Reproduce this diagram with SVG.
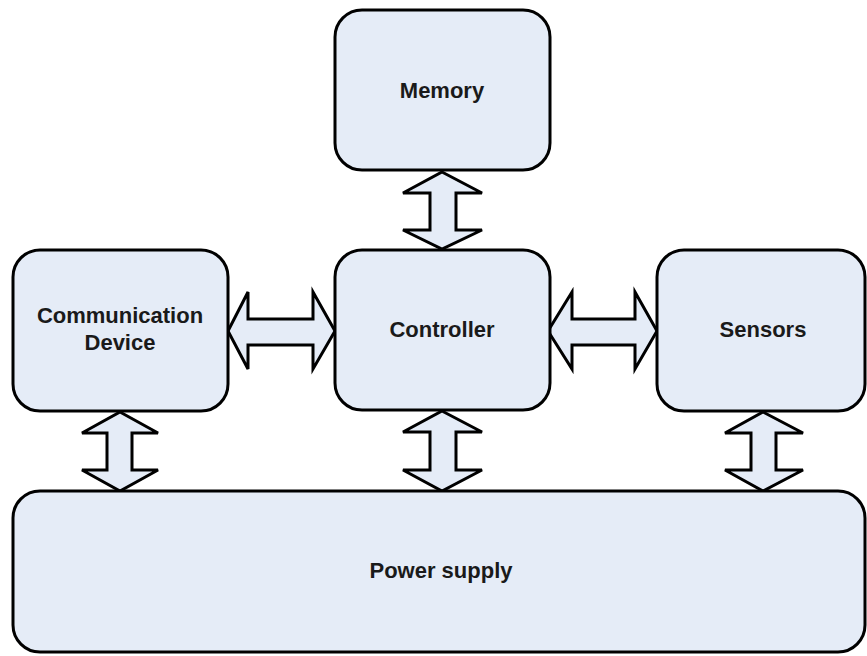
<svg xmlns="http://www.w3.org/2000/svg" width="867" height="656" viewBox="0 0 867 656">
  <style>
    .box { fill: #E5ECF7; stroke: #000; stroke-width: 3; }
    .arrow { fill: #E5ECF7; stroke: #000; stroke-width: 3; stroke-linejoin: miter; }
    .label { font-family: "Liberation Sans", Arial, sans-serif; font-size: 22px; font-weight: bold; fill: #1a1a1a; text-anchor: middle; }
  </style>
  <rect width="867" height="656" fill="#fff"/>

  <!-- block-arrow connectors -->
  <g id="connectors">
    <!-- Memory <-> Controller -->
    <polygon class="arrow" points="442,172 482,193 456,193 456,230 482,230 442,249 403,230 430,230 430,193 403,193"/>
    <!-- Communication Device <-> Controller -->
    <polygon class="arrow" points="228,331 248,292 248,319 313,319 313,292 335,331 313,369 313,345 248,345 248,369"/>
    <!-- Controller <-> Sensors -->
    <polygon class="arrow" points="548,331 572,292 572,319 635,319 635,292 657,331 635,369 635,345 572,345 572,369"/>
    <!-- Communication Device <-> Power supply -->
    <polygon class="arrow" points="120,412 158,433 132,433 132,470 158,470 120,491 82,470 107,470 107,433 82,433"/>
    <!-- Controller <-> Power supply -->
    <polygon class="arrow" points="442,411 482,432 456,432 456,470 482,470 442,491 403,470 430,470 430,432 403,432"/>
    <!-- Sensors <-> Power supply -->
    <polygon class="arrow" points="763,412 803,433 776,433 776,470 803,470 763,491 725,470 751,470 751,433 725,433"/>
  </g>

  <g id="memory">
    <rect class="box" x="335" y="10" width="215" height="160" rx="27"/>
    <text class="label" x="442" y="98">Memory</text>
  </g>

  <g id="communication-device">
    <rect class="box" x="13" y="250" width="215" height="161" rx="27"/>
    <text class="label" x="120" y="323">Communication</text>
    <text class="label" x="120" y="350">Device</text>
  </g>

  <g id="controller">
    <rect class="box" x="335" y="250" width="215" height="160" rx="27"/>
    <text class="label" x="442" y="337">Controller</text>
  </g>

  <g id="sensors">
    <rect class="box" x="657" y="250" width="208" height="161" rx="27"/>
    <text class="label" x="763" y="337">Sensors</text>
  </g>

  <g id="power-supply">
    <rect class="box" x="13" y="491" width="852" height="161" rx="27"/>
    <text class="label" x="441" y="578">Power supply</text>
  </g>
</svg>
